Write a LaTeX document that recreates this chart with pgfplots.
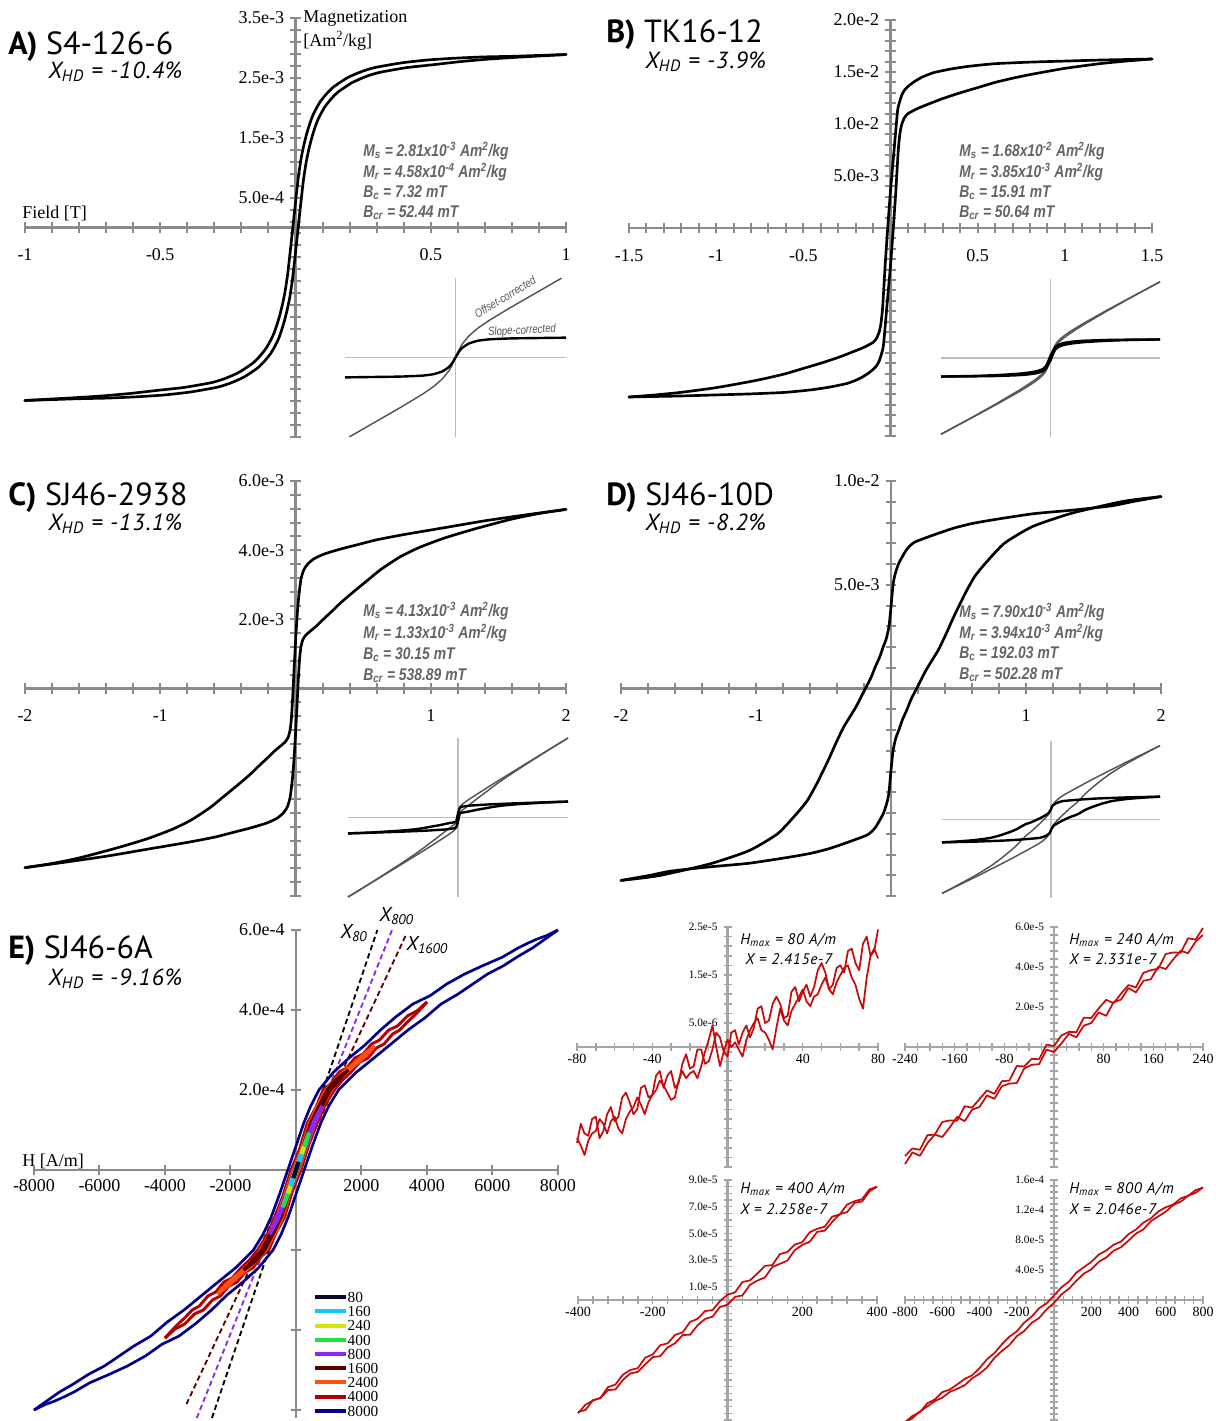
\documentclass[border=0pt]{standalone}
\usepackage{fontspec}
\setmainfont{Liberation Serif}
\newfontfamily\tfont{PT Sans}
\newfontfamily\tfontls[LetterSpace=5]{PT Sans}
\newfontfamily\nfont[FakeStretch=0.82]{Liberation Sans}
\usepackage{pgfplots}
\usepackage{pgfplotstable}
\pgfplotsset{compat=1.18}

\definecolor{axgray}{RGB}{138,138,138}
\definecolor{smgray}{RGB}{165,165,165}
\definecolor{partxt}{RGB}{100,100,100}
\definecolor{inax}{RGB}{190,190,190}
\definecolor{ingray}{RGB}{85,85,85}
\definecolor{fred}{RGB}{200,10,10}
\definecolor{c80}{RGB}{10,10,40}
\definecolor{c160}{RGB}{20,200,255}
\definecolor{c240}{RGB}{215,230,0}
\definecolor{c400}{RGB}{30,225,60}
\definecolor{c800}{RGB}{140,40,240}
\definecolor{c1600}{RGB}{95,0,0}
\definecolor{c2400}{RGB}{255,80,20}
\definecolor{c4000}{RGB}{180,0,0}
\definecolor{c8000}{RGB}{0,0,140}

\pgfplotsset{
 big/.style={scale only axis, anchor=south west, axis lines=middle, enlargelimits=false, clip=false,
   axis line style={axgray, line width=2.2pt, -},
   every inner x axis line/.append style={-}, every inner y axis line/.append style={-},
   every tick/.append style={axgray, line width=1.5pt},
   tick align=center, major tick length=8pt, minor tick length=8pt,
   ticklabel style={font=\fontsize{13.5}{14}\selectfont},
   yticklabel style={xshift=-1pt}},
 bigx/.style={xticklabel style={yshift=-8.5pt}},
 small/.style={scale only axis, anchor=south west, axis lines=middle, enlargelimits=false, clip=false,
   axis line style={smgray, line width=1.6pt, -},
   every inner x axis line/.append style={-}, every inner y axis line/.append style={-},
   every tick/.append style={smgray, line width=1.1pt},
   tick align=center, major tick length=6pt, minor tick length=6pt,
   xticklabel style={font=\fontsize{10.5}{11}\selectfont, yshift=1.5pt},
   yticklabel style={font=\fontsize{8.5}{9}\selectfont, xshift=-1pt}},
 inset/.style={scale only axis, anchor=south west, axis lines=middle, enlargelimits=false, clip=false,
   axis line style={inax, line width=0.9pt, -},
   every inner x axis line/.append style={-}, every inner y axis line/.append style={-},
   xtick=\empty, ytick=\empty, xmin=-1, xmax=1, ymin=-1, ymax=1},
 blk/.style={black, line width=2pt, line join=round, line cap=round, smooth, tension=0.35},
 iblk/.style={black, line width=1.8pt, line join=round, smooth, tension=0.3},
 igry/.style={ingray, line width=1.1pt, line join=round, smooth, tension=0.3},
 red/.style={fred, line width=1.3pt, line join=round},
}
\newcommand\loopplot[2]{\addplot[#1] table[x=x,y=y]{#2};
  \addplot[#1] table[x expr=-\thisrow{x},y expr=-\thisrow{y}]{#2};}

% ---------- Panel A (T, 1e-3 Am2/kg), descending branch ----------
\pgfplotstableread{
x y
1.0 2.89
0.899 2.875
0.798 2.86
0.696 2.85
0.594 2.83
0.491 2.80
0.391 2.75
0.291 2.67
0.241 2.60
0.191 2.50
0.141 2.35
0.116 2.24
0.091 2.10
0.071 1.94
0.061 1.84
0.051 1.71
0.041 1.56
0.031 1.38
0.021 1.16
0.011 0.86
0.001 0.46
-0.009 0.04
-0.019 -0.38
-0.029 -0.78
-0.039 -1.08
-0.049 -1.30
-0.059 -1.48
-0.069 -1.63
-0.079 -1.76
-0.089 -1.86
-0.109 -2.02
-0.134 -2.16
-0.159 -2.27
-0.209 -2.42
-0.259 -2.52
-0.309 -2.59
-0.409 -2.67
-0.509 -2.72
-0.606 -2.77
-0.704 -2.81
-0.802 -2.84
-0.901 -2.865
-1.0 -2.89
}\Atab
% ---------- Panel B ----------
\pgfplotstableread{
x y
1.5 16.25
1.35 16.2
1.2 16.15
1.0 16.05
0.8 15.95
0.6 15.8
0.45 15.55
0.35 15.3
0.25 14.95
0.18 14.5
0.13 14.0
0.1 13.6
0.08 13.25
0.065 12.8
0.05 12.0
0.04 11.2
0.02 7.4
0.0 3.6
-0.016 0
-0.03 -3.4
-0.045 -7.6
-0.055 -9.2
-0.065 -10.0
-0.08 -10.6
-0.1 -11.0
-0.15 -11.45
-0.2 -11.8
-0.3 -12.45
-0.4 -13.0
-0.5 -13.5
-0.6 -14.0
-0.7 -14.4
-0.8 -14.75
-1.0 -15.35
-1.2 -15.8
-1.35 -16.05
-1.5 -16.25
}\Btab
% ---------- Panel C ----------
\pgfplotstableread{
x y
2.0 5.18
1.7 5.02
1.4 4.85
1.1 4.65
0.8 4.45
0.6 4.3
0.45 4.15
0.34 4.04
0.22 3.9
0.14 3.76
0.09 3.6
0.06 3.42
0.04 3.15
0.025 2.7
0.012 2.1
0.0 1.33
-0.01 0.6
-0.02 -0.2
-0.03 -0.85
-0.04 -1.2
-0.055 -1.42
-0.08 -1.56
-0.11 -1.66
-0.15 -1.79
-0.2 -1.98
-0.26 -2.2
-0.34 -2.5
-0.43 -2.8
-0.53 -3.12
-0.63 -3.44
-0.77 -3.8
-0.91 -4.07
-1.1 -4.35
-1.33 -4.62
-1.6 -4.9
-1.8 -5.06
-2.0 -5.18
}\Ctab
% ---------- Panel D ----------
\pgfplotstableread{
x y
2.0 9.25
1.8 9.02
1.63 8.8
1.35 8.6
1.05 8.42
0.756 8.13
0.6 7.95
0.465 7.73
0.32 7.41
0.174 7.05
0.116 6.7
0.058 6.04
0.03 5.5
0.015 5.0
0.0 3.94
-0.015 3.0
-0.035 2.4
-0.058 2.0
-0.085 1.5
-0.116 1.05
-0.15 0.5
-0.19 0
-0.26 -0.89
-0.35 -1.85
-0.41 -2.66
-0.465 -3.46
-0.55 -4.59
-0.62 -5.4
-0.7 -6.04
-0.84 -7.0
-1.05 -7.81
-1.34 -8.45
-1.72 -9.02
-2.0 -9.25
}\Dtab
% ---------- Insets (normalised) ----------
\pgfplotstableread{
x y
1 0.25
0.75 0.245
0.5 0.24
0.3 0.228
0.2 0.21
0.12 0.175
0.06 0.12
0.03 0.07
0 0
}\iAb
\pgfplotstableread{
x y
0.96 0.998
0.75 0.83
0.5 0.63
0.3 0.462
0.2 0.366
0.12 0.269
0.06 0.167
0.03 0.093
0 0
}\iAg
\pgfplotstableread{
x y
1 0.235
0.7 0.232
0.5 0.228
0.3 0.218
0.2 0.207
0.12 0.19
0.07 0.165
0.04 0.13
0.02 0.08
0 0.03
-0.02 -0.04
-0.04 -0.1
-0.07 -0.14
-0.12 -0.165
-0.2 -0.185
-0.3 -0.2
-0.5 -0.217
-0.7 -0.227
-1 -0.235
}\iBb
\pgfplotstableread{
x y
1 0.965
0.7 0.743
0.5 0.593
0.3 0.437
0.2 0.353
0.12 0.278
0.07 0.216
0.04 0.159
0.02 0.095
0 0.03
-0.02 -0.055
-0.04 -0.129
-0.07 -0.191
-0.12 -0.253
-0.2 -0.331
-0.3 -0.419
-0.5 -0.582
-0.7 -0.738
-1 -0.965
}\iBg
\pgfplotstableread{
x y
1 0.2
0.85 0.194
0.7 0.187
0.55 0.18
0.4 0.172
0.3 0.166
0.225 0.16
0.17 0.155
0.11 0.15
0.07 0.143
0.04 0.137
0.025 0.13
0.015 0.116
0.0075 0.085
0 0.051
-0.01 -0.015
-0.015 -0.042
-0.0225 -0.056
-0.04 -0.062
-0.07 -0.068
-0.1 -0.076
-0.13 -0.085
-0.17 -0.097
-0.215 -0.108
-0.265 -0.12
-0.315 -0.133
-0.385 -0.147
-0.455 -0.157
-0.55 -0.168
-0.665 -0.178
-0.8 -0.189
-0.9 -0.195
-1 -0.2
}\iCb
\pgfplotstableread{
x y
1 1.0
0.85 0.874
0.7 0.747
0.55 0.62
0.4 0.492
0.3 0.406
0.225 0.34
0.17 0.291
0.11 0.238
0.07 0.199
0.04 0.169
0.025 0.15
0.015 0.128
0.0075 0.091
0 0.051
-0.01 -0.023
-0.015 -0.054
-0.0225 -0.074
-0.04 -0.094
-0.07 -0.124
-0.1 -0.156
-0.13 -0.189
-0.17 -0.233
-0.215 -0.28
-0.265 -0.332
-0.315 -0.385
-0.385 -0.455
-0.455 -0.521
-0.55 -0.608
-0.665 -0.71
-0.8 -0.829
-0.9 -0.915
-1 -1.0
}\iCg
\pgfplotstableread{
x y
1 0.291
0.7 0.282
0.4 0.266
0.213 0.248
0.116 0.236
0.077 0.224
0.039 0.202
0.01 0.168
0 0.132
-0.023 0.08
-0.057 0.05
-0.1 0.017
-0.173 -0.03
-0.233 -0.06
-0.273 -0.089
-0.31 -0.12
-0.367 -0.154
-0.467 -0.202
-0.56 -0.235
-0.7 -0.262
-0.893 -0.283
-1 -0.291
}\iDb
\pgfplotstableread{
x y
1 0.941
0.7 0.737
0.4 0.526
0.213 0.386
0.116 0.311
0.077 0.274
0.039 0.227
0.01 0.175
0 0.132
-0.023 0.065
-0.057 0.013
-0.1 -0.048
-0.173 -0.142
-0.233 -0.211
-0.273 -0.266
-0.31 -0.322
-0.367 -0.393
-0.467 -0.506
-0.56 -0.599
-0.7 -0.717
-0.893 -0.863
-1 -0.941
}\iDg
% ---------- Panel E (A/m, 1e-4 Am2/kg) ----------
\pgfplotstableread{
x y
8000 6.0
7650 5.86
7380 5.78
7050 5.66
6780 5.55
6300 5.32
5680 5.1
5150 4.9
4600 4.65
4100 4.36
3570 4.15
3050 3.83
2580 3.5
2100 3.12
1620 2.8
1150 2.45
700 2.0
450 1.6
240 1.18
0 0.6
-250 0
-500 -0.6
-760 -1.18
-1000 -1.6
-1300 -2.0
-1850 -2.45
-2380 -2.8
-2900 -3.15
-3420 -3.5
-3930 -3.8
-4430 -4.15
-4950 -4.4
-5400 -4.65
-5850 -4.9
-6320 -5.1
-6800 -5.35
-7220 -5.55
-7620 -5.78
-8000 -6.0
}\Ena
\pgfplotstableread{
x y
4000 4.2
3700 3.98
3400 3.85
3100 3.6
2830 3.5
2550 3.25
2310 3.15
2050 2.9
1800 2.8
1550 2.55
1320 2.45
1050 2.15
830 2.0
600 1.55
350 1.18
100 0.5
-150 0
-400 -0.65
-650 -1.18
-900 -1.65
-1170 -2.0
-1420 -2.25
-1680 -2.45
-1950 -2.7
-2200 -2.8
-2450 -3.05
-2690 -3.15
-2950 -3.4
-3170 -3.5
-3400 -3.7
-3600 -3.85
-3800 -4.02
-4000 -4.2
}\Ere
\pgfplotstableread{
x y
2400 3.1
2150 2.95
1940 2.8
1700 2.62
1440 2.45
1180 2.25
910 2.0
650 1.6
410 1.18
150 0.5
-90 0
-340 -0.6
-590 -1.18
-850 -1.65
-1090 -2.0
-1330 -2.25
-1560 -2.45
-1800 -2.62
-2060 -2.8
-2250 -2.95
-2400 -3.1
}\Eor
\pgfplotstableread{
x y
1600 2.5
1400 2.38
1200 2.25
950 2.0
700 1.6
450 1.18
200 0.55
-50 0
-300 -0.6
-550 -1.18
-800 -1.6
-1050 -2.0
-1300 -2.22
-1450 -2.38
-1600 -2.5
}\Ema
\pgfplotstableread{
x y
800 1.6
700 1.45
600 1.3
500 1.12
400 0.93
300 0.74
200 0.53
100 0.32
0 0.1
-100 -0.14
-200 -0.38
-300 -0.6
-400 -0.82
-500 -1.02
-600 -1.22
-700 -1.42
-800 -1.6
}\Evi
\pgfplotstableread{
x y
400 0.93
300 0.72
200 0.5
100 0.28
0 0.05
-100 -0.19
-200 -0.43
-300 -0.68
-400 -0.93
}\Egr
\pgfplotstableread{
x y
240 0.58
120 0.31
0 0.03
-120 -0.27
-240 -0.58
}\Eye
\pgfplotstableread{
x y
160 0.4
0 0.02
-160 -0.4
}\Ecy
\pgfplotstableread{
x y
80 0.2
0 0.01
-80 -0.2
}\Ebk
% ---------- Small panels (A/m, 1e-5 Am2/kg) ----------
\pgfplotstableread{
x y
80 2.45
78 2.0
76 1.9
74 2.3
72 2.15
70 1.6
68 1.75
66 2.05
64 2.0
62 1.55
60 1.7
58 1.65
56 1.3
54 1.2
52 1.55
50 1.75
48 1.6
46 1.25
44 1.05
42 1.3
40 1.15
38 0.95
36 1.25
34 1.15
32 0.65
30 0.6
28 0.9
26 1.05
24 0.9
22 0.55
20 0.5
18 0.85
16 0.8
14 0.4
12 0.2
10 0.45
8 0.3
6 0.05
4 0.35
2 0.3
0 -0.2
-2 -0.1
-4 0.2
-6 0.3
-8 -0.05
-10 -0.3
-12 -0.35
-14 -0.05
-16 -0.05
-18 -0.4
-20 -0.45
-22 -0.15
-24 -0.35
-26 -0.75
-28 -0.85
-30 -0.5
-32 -0.6
-34 -0.85
-36 -0.5
-38 -0.6
-40 -1.0
-42 -1.05
-44 -0.8
-46 -0.85
-48 -1.3
-50 -1.4
-52 -1.15
-54 -0.95
-56 -1.05
-58 -1.45
-60 -1.55
-62 -1.25
-64 -1.4
-66 -1.75
-68 -1.9
-70 -1.45
-72 -1.5
-74 -1.85
-76 -1.8
-78 -1.6
-80 -2.0
}\Fau
\pgfplotstableread{
x y
-80 -1.9
-78 -2.05
-76 -2.25
-74 -1.95
-72 -1.8
-70 -1.75
-68 -1.5
-66 -1.6
-64 -1.8
-62 -1.55
-60 -1.45
-58 -1.7
-56 -1.8
-54 -1.5
-52 -1.35
-50 -1.25
-48 -1.05
-46 -1.2
-44 -1.4
-42 -1.15
-40 -1.0
-38 -0.9
-36 -0.7
-34 -0.8
-32 -0.95
-30 -1.1
-28 -1.05
-26 -0.7
-24 -0.5
-22 -0.65
-20 -0.55
-18 -0.5
-16 -0.65
-14 -0.4
-12 -0.1
-10 0.15
-8 0.45
-6 0.0
-4 -0.4
-2 -0.1
0 0.15
2 0.0
4 0.1
6 -0.05
8 -0.2
10 0.15
12 0.35
14 0.5
16 0.6
18 0.35
20 0.3
22 0.15
24 -0.05
26 0.4
28 0.8
30 0.55
32 0.45
34 0.75
36 0.9
38 1.05
40 1.2
42 0.95
44 0.85
46 1.05
48 1.1
50 1.3
52 1.45
54 1.2
56 1.1
58 1.35
60 1.5
62 1.65
64 1.7
66 1.45
68 1.3
70 1.0
72 0.8
74 1.45
76 1.9
78 2.05
80 1.85
}\Fal
\pgfplotstableread{
x y
240 5.95
228 5.37
216 5.44
204 4.71
192 4.73
180 4.65
168 3.92
156 3.84
144 3.71
132 2.98
120 3.1
108 2.67
96 2.19
84 2.36
72 1.93
60 1.45
48 1.47
36 0.74
24 0.76
12 0.58
0 0.05
-12 0.12
-24 -0.61
-36 -0.59
-48 -0.97
-60 -0.95
-72 -1.68
-84 -1.71
-96 -2.34
-108 -2.17
-120 -2.6
-132 -3.03
-144 -2.96
-156 -3.69
-168 -3.67
-180 -3.75
-192 -4.38
-204 -4.41
-216 -5.14
-228 -5.07
-240 -5.45
}\Fbu
\pgfplotstableread{
x y
-240 -5.85
-228 -5.27
-216 -5.44
-204 -4.81
-192 -4.38
-180 -4.5
-168 -4.02
-156 -3.49
-144 -3.71
-132 -3.13
-120 -3.0
-108 -2.42
-96 -2.59
-84 -1.96
-72 -1.83
-60 -1.8
-48 -1.07
-36 -0.89
-24 -0.86
-12 -0.13
0 -0.25
12 0.18
24 0.66
36 0.49
48 1.07
60 1.2
72 1.73
84 1.56
96 2.24
108 2.37
120 2.95
132 2.73
144 3.31
156 3.39
168 4.02
180 3.9
192 4.38
204 4.81
216 4.69
228 5.27
240 5.6
}\Fbl
\pgfplotstableread{
x y
400 8.5
380 8.3
360 7.56
340 7.41
320 7.16
300 6.41
280 6.25
260 5.5
240 5.34
220 5.08
200 4.33
180 4.16
160 3.6
140 3.44
120 2.62
100 2.56
80 1.99
60 1.47
40 1.35
20 0.57
0 0.4
-20 -0.08
-40 -0.75
-60 -0.83
-80 -1.41
-100 -1.64
-120 -2.43
-140 -2.61
-160 -3.25
-180 -3.39
-200 -4.08
-220 -4.32
-240 -5.11
-260 -5.25
-280 -5.6
-300 -6.34
-320 -6.54
-340 -7.34
-360 -7.54
-380 -7.85
-400 -8.5
}\Fcu
\pgfplotstableread{
x y
-400 -8.4
-380 -8.25
-360 -7.51
-340 -7.36
-320 -6.76
-300 -6.71
-280 -6.0
-260 -5.5
-240 -5.39
-220 -4.83
-200 -4.28
-180 -4.21
-160 -3.55
-140 -3.24
-120 -2.62
-100 -2.61
-80 -1.89
-60 -1.42
-40 -1.25
-20 -0.52
0 -0.35
20 0.23
40 0.35
60 1.13
80 1.46
100 1.69
120 2.48
140 2.71
160 2.95
180 3.74
200 4.13
220 4.37
240 5.11
260 5.2
280 5.85
300 6.44
320 6.59
340 7.29
360 7.39
380 8.15
400 8.5
}\Fcl
\pgfplotstableread{
x y
800 15.0
760 14.65
720 13.9
680 13.54
640 12.73
600 12.37
560 11.81
520 10.89
480 10.32
440 9.4
400 8.78
360 7.8
320 7.37
280 6.59
240 6.06
200 5.07
160 4.38
120 3.64
80 2.45
40 1.7
0 0.6
-40 -0.45
-80 -1.1
-120 -2.21
-160 -3.02
-200 -4.18
-240 -4.9
-280 -5.91
-320 -7.08
-360 -7.9
-400 -9.08
-440 -10.05
-480 -10.53
-520 -11.26
-560 -11.95
-600 -12.28
-640 -13.27
-680 -13.76
-720 -14.96
-760 -15.45
-800 -16.3
}\Fdu
\pgfplotstableread{
x y
-800 -16.3
-760 -15.75
-720 -14.85
-680 -14.19
-640 -13.48
-600 -13.02
-560 -12.26
-520 -11.84
-480 -11.37
-440 -10.45
-400 -9.83
-360 -9.0
-320 -7.72
-280 -6.79
-240 -6.01
-200 -4.82
-160 -4.13
-120 -3.04
-80 -2.4
-40 -1.25
0 -0.4
40 0.75
80 1.51
120 2.56
160 3.52
200 4.08
240 5.1
280 5.66
320 6.58
360 7.05
400 7.93
440 8.85
480 9.43
520 10.51
560 11.15
600 11.78
640 12.67
680 13.11
720 13.9
760 14.3
800 15.0
}\Fdl

\begin{document}
\begin{tikzpicture}
\path[use as bounding box] (0,0) rectangle (912pt,-1065.75pt);
\begin{scope}[x=0.75pt,y=-0.75pt]
\coordinate (pA) at (25,437);
\coordinate (pB) at (629,436);
\coordinate (pC) at (25,896);
\coordinate (pD) at (621,896);
\coordinate (pE) at (34,1418);
\coordinate (pF1) at (577,1167);
\coordinate (pF2) at (905,1167);
\coordinate (pF3) at (578,1420);
\coordinate (pF4) at (905,1420);
\coordinate (iA) at (345,437);
\coordinate (iB) at (941,437);
\coordinate (iC) at (348,897);
\coordinate (iD) at (942,898);
\tikzset{ttl/.style={anchor=base west, inner sep=0pt, font=\tfont\fontsize{24}{24}\selectfont},
  xhd/.style={anchor=base west, inner sep=0pt, font=\tfontls\itshape\fontsize{17.5}{18}\selectfont},
  par/.style={anchor=base west, inner sep=0pt, text=partxt, font=\nfont\bfseries\itshape\fontsize{12.7}{13}\selectfont},
  lab/.style={anchor=base west, inner sep=0pt, font=\fontsize{13.5}{14}\selectfont},
  hm/.style={anchor=base west, inner sep=0pt, font=\tfontls\itshape\fontsize{11.5}{12}\selectfont}}
% titles
\node[ttl] at (8,54) {\textbf{A)} S4-126-6};
\node[xhd] at (48,78) {X\textsubscript{HD} = -10.4\%};
\node[ttl] at (606,42) {\textbf{B)} TK16-12};
\node[xhd] at (645,68) {X\textsubscript{HD} = -3.9\%};
\node[ttl] at (8,505) {\textbf{C)} SJ46-2938};
\node[xhd] at (48,530) {X\textsubscript{HD} = -13.1\%};
\node[ttl] at (606,505) {\textbf{D)} SJ46-10D};
\node[xhd] at (645,530) {X\textsubscript{HD} = -8.2\%};
\node[ttl] at (8,958) {\textbf{E)} SJ46-6A};
\node[xhd] at (48,985) {X\textsubscript{HD} = -9.16\%};
% axis labels
\node[lab] at (303,22) {Magnetization};
\node[lab] at (303,46) {[Am\textsuperscript{2}/kg]};
\node[lab] at (22,218) {Field [T]};
\node[lab] at (22,1166) {H [A/m]};
% parameters
\node[par] at (363,156) {M\textsubscript{s} = 2.81x10\textsuperscript{-3} Am\textsuperscript{2}/kg};
\node[par] at (363,177) {M\textsubscript{r} = 4.58x10\textsuperscript{-4} Am\textsuperscript{2}/kg};
\node[par] at (363,197) {B\textsubscript{c} = 7.32 mT};
\node[par] at (363,217) {B\textsubscript{cr} = 52.44 mT};
\node[par] at (959,156) {M\textsubscript{s} = 1.68x10\textsuperscript{-2} Am\textsuperscript{2}/kg};
\node[par] at (959,177) {M\textsubscript{r} = 3.85x10\textsuperscript{-3} Am\textsuperscript{2}/kg};
\node[par] at (959,197) {B\textsubscript{c} = 15.91 mT};
\node[par] at (959,217) {B\textsubscript{cr} = 50.64 mT};
\node[par] at (363,616) {M\textsubscript{s} = 4.13x10\textsuperscript{-3} Am\textsuperscript{2}/kg};
\node[par] at (363,638) {M\textsubscript{r} = 1.33x10\textsuperscript{-3} Am\textsuperscript{2}/kg};
\node[par] at (363,659) {B\textsubscript{c} = 30.15 mT};
\node[par] at (363,680) {B\textsubscript{cr} = 538.89 mT};
\node[par] at (959,617) {M\textsubscript{s} = 7.90x10\textsuperscript{-3} Am\textsuperscript{2}/kg};
\node[par] at (959,638) {M\textsubscript{r} = 3.94x10\textsuperscript{-3} Am\textsuperscript{2}/kg};
\node[par] at (959,658) {B\textsubscript{c} = 192.03 mT};
\node[par] at (959,679) {B\textsubscript{cr} = 502.28 mT};
% inset annotations
\node[rotate=31, inner sep=0pt, text=ingray, font=\nfont\itshape\fontsize{8.8}{9}\selectfont] at (505,297) {Offset-corrected};
\node[rotate=3, inner sep=0pt, text=ingray, font=\nfont\itshape\fontsize{8.8}{9}\selectfont] at (522,331) {Slope-corrected};
% E annotations
\node[anchor=base west, inner sep=0pt, font=\tfont\itshape\fontsize{15}{15}\selectfont] at (340,938) {X\textsubscript{80}};
\node[anchor=base west, inner sep=0pt, font=\tfont\itshape\fontsize{15}{15}\selectfont] at (379,921) {X\textsubscript{800}};
\node[anchor=base west, inner sep=0pt, font=\tfont\itshape\fontsize{15}{15}\selectfont] at (406,950) {X\textsubscript{1600}};
% small panel annotations
\node[hm] at (740,944) {H\textsubscript{max} = 80 A/m};
\node[hm] at (745,964) {X = 2.415e-7};
\node[hm] at (1069,944) {H\textsubscript{max} = 240 A/m};
\node[hm] at (1069,964) {X = 2.331e-7};
\node[hm] at (740,1193) {H\textsubscript{max} = 400 A/m};
\node[hm] at (740,1214) {X = 2.258e-7};
\node[hm] at (1069,1193) {H\textsubscript{max} = 800 A/m};
\node[hm] at (1069,1214) {X = 2.046e-7};
\end{scope}

% ================= A =================
\begin{axis}[big, bigx, at={(pA)}, width=405.75pt, height=314.25pt,
  xmin=-1, xmax=1, ymin=-3.5, ymax=3.5,
  xtick={-1,-0.5,0.5,1}, xticklabels={-1,-0.5,0.5,1}, minor xtick={-1,-0.9,...,1},
  ytick={0.5,1.5,2.5,3.5}, yticklabels={5.0e-4,1.5e-3,2.5e-3,3.5e-3}, minor ytick={-3.5,-3.3,...,3.5}]
\loopplot{blk}{\Atab}
\end{axis}
\begin{axis}[inset, at={(iA)}, width=165.75pt, height=119.25pt]
\loopplot{igry}{\iAg}
\loopplot{iblk}{\iAb}
\end{axis}
% ================= B =================
\begin{axis}[big, bigx, at={(pB)}, width=392.25pt, height=312pt,
  xmin=-1.5, xmax=1.5, ymin=-20, ymax=20,
  xtick={-1.5,-1,-0.5,0.5,1,1.5}, xticklabels={-1.5,-1,-0.5,0.5,1,1.5}, minor xtick={-1.5,-1.4,...,1.5},
  ytick={5,10,15,20}, yticklabels={5.0e-3,1.0e-2,1.5e-2,2.0e-2}, minor ytick={-20,-19,...,20}]
\loopplot{blk}{\Btab}
\end{axis}
\begin{axis}[inset, at={(iB)}, width=164.25pt, height=118.5pt]
\loopplot{igry}{\iBg}
\loopplot{iblk}{\iBb}
\end{axis}
% ================= C =================
\begin{axis}[big, bigx, at={(pC)}, width=405.75pt, height=311.25pt,
  xmin=-2, xmax=2, ymin=-6, ymax=6,
  xtick={-2,-1,1,2}, xticklabels={-2,-1,1,2}, minor xtick={-2,-1.8,...,2},
  ytick={2,4,6}, yticklabels={2.0e-3,4.0e-3,6.0e-3}, minor ytick={-6,-5.6,...,6}]
\loopplot{blk}{\Ctab}
\end{axis}
\begin{axis}[inset, at={(iC)}, width=165pt, height=119.25pt]
\loopplot{igry}{\iCg}
\loopplot{iblk}{\iCb}
\end{axis}
% ================= D =================
\begin{axis}[big, bigx, at={(pD)}, width=405pt, height=311.25pt,
  xmin=-2, xmax=2, ymin=-10, ymax=10,
  xtick={-2,-1,1,2}, xticklabels={-2,-1,1,2}, minor xtick={-2,-1.8,...,2},
  ytick={5,10}, yticklabels={5.0e-3,1.0e-2}, minor ytick={-10,-9,...,10}]
\loopplot{blk}{\Dtab}
\end{axis}
\begin{axis}[inset, at={(iD)}, width=163.5pt, height=117.75pt]
\loopplot{igry}{\iDg}
\loopplot{iblk}{\iDb}
\end{axis}
% ================= E =================
\begin{axis}[big, at={(pE)}, width=393pt, height=366pt,
  xticklabel style={yshift=0.5pt},
  xmin=-8000, xmax=8000, ymin=-6.2, ymax=6,
  xtick={-8000,-6000,-4000,-2000,2000,4000,6000,8000},
  xticklabels={-8000,-6000,-4000,-2000,2000,4000,6000,8000},
  ytick={-6,-4,-2,2,4,6}, yticklabels={,,,2.0e-4,4.0e-4,6.0e-4},
  legend style={at={(0.532,0.259)}, anchor=north west, draw=none, fill=none,
    font=\fontsize{11.5}{11.5}\selectfont, row sep=2.65pt, inner sep=0pt,
    nodes={inner sep=0pt, text height=8pt, text depth=0pt}},
  legend cell align=left,
  legend image code/.code={\draw[#1] (0pt,0pt) -- (23pt,0pt);}]
\addplot[black, dash pattern=on 4pt off 2.5pt, line width=1.4pt, forget plot] coordinates {(-2567,-6.2) (2484,6)};
\addplot[c800, dash pattern=on 4pt off 2.5pt, line width=1.4pt, forget plot] coordinates {(-3030,-6.2) (2933,6)};
\addplot[c1600, dash pattern=on 4pt off 2.5pt, line width=1.4pt, forget plot] coordinates {(-3343,-5.85) (3343,5.85)};
\loopplot{c8000, line width=2pt, forget plot}{\Ena}
\loopplot{c4000, line width=2.2pt, forget plot}{\Ere}
\loopplot{c2400, line width=2.2pt, forget plot}{\Eor}
\loopplot{c1600, line width=2.4pt, forget plot}{\Ema}
\loopplot{c800, line width=2.8pt, forget plot}{\Evi}
\loopplot{c400, line width=3pt, forget plot}{\Egr}
\loopplot{c240, line width=3pt, forget plot}{\Eye}
\loopplot{c160, line width=3pt, forget plot}{\Ecy}
\loopplot{c80, line width=3pt, forget plot}{\Ebk}
\addlegendimage{c80, line width=3pt}\addlegendentry{80}
\addlegendimage{c160, line width=3pt}\addlegendentry{160}
\addlegendimage{c240, line width=3pt}\addlegendentry{240}
\addlegendimage{c400, line width=3pt}\addlegendentry{400}
\addlegendimage{c800, line width=3pt}\addlegendentry{800}
\addlegendimage{c1600, line width=3pt}\addlegendentry{1600}
\addlegendimage{c2400, line width=3pt}\addlegendentry{2400}
\addlegendimage{c4000, line width=3pt}\addlegendentry{4000}
\addlegendimage{c8000, line width=3pt}\addlegendentry{8000}
\end{axis}
% ================= F1..F4 =================
\begin{axis}[small, at={(pF1)}, width=225.75pt, height=180pt,
  xmin=-80, xmax=80, ymin=-2.5, ymax=2.5,
  xtick={-80,-40,40,80}, xticklabels={-80,-40,40,80}, minor xtick={-80,-70,...,80},
  ytick={0.5,1.5,2.5}, yticklabels={5.0e-6,1.5e-5,2.5e-5}, minor ytick={-2.5,-2.3,...,2.5}]
\addplot[red] table[x=x,y=y]{\Fau};
\addplot[red] table[x=x,y=y]{\Fal};
\end{axis}
\begin{axis}[small, at={(pF2)}, width=223.5pt, height=180pt,
  xmin=-240, xmax=240, ymin=-6, ymax=6,
  xtick={-240,-160,-80,80,160,240}, xticklabels={-240,-160,-80,80,160,240}, minor xtick={-240,-220,...,240},
  ytick={2,4,6}, yticklabels={2.0e-5,4.0e-5,6.0e-5}, minor ytick={-6,-5.6,...,6}]
\addplot[red] table[x=x,y=y]{\Fbu};
\addplot[red] table[x=x,y=y]{\Fbl};
\end{axis}
\begin{axis}[small, at={(pF3)}, width=224.25pt, height=180pt,
  xmin=-400, xmax=400, ymin=-9, ymax=9,
  xtick={-400,-200,200,400}, xticklabels={-400,-200,200,400}, minor xtick={-400,-360,...,400},
  ytick={1,3,5,7,9}, yticklabels={1.0e-5,3.0e-5,5.0e-5,7.0e-5,9.0e-5}, minor ytick={-9,-8.5,...,9}]
\addplot[red] table[x=x,y=y]{\Fcu};
\addplot[red] table[x=x,y=y]{\Fcl};
\end{axis}
\begin{axis}[small, at={(pF4)}, width=223.5pt, height=180pt,
  xmin=-800, xmax=800, ymin=-16, ymax=16,
  xtick={-800,-600,-400,-200,200,400,600,800}, xticklabels={-800,-600,-400,-200,200,400,600,800},
  minor xtick={-800,-750,...,800},
  ytick={4,8,12,16}, yticklabels={4.0e-5,8.0e-5,1.2e-4,1.6e-4}, minor ytick={-16,-15.2,...,16}]
\addplot[red] table[x=x,y=y]{\Fdu};
\addplot[red] table[x=x,y=y]{\Fdl};
\end{axis}
\end{tikzpicture}
\end{document}
